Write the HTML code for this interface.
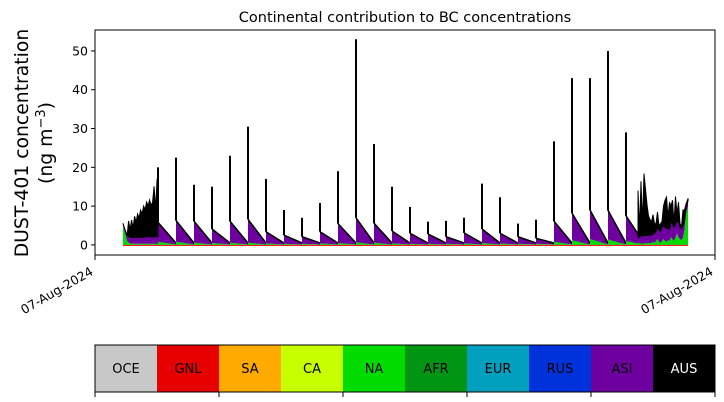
<!DOCTYPE html>
<html><head><meta charset="utf-8"><style>
body{margin:0;background:#fff;}
svg{display:block;font-family:"DejaVu Sans","Liberation Sans",sans-serif;}
</style></head><body>
<svg id="chart" width="724" height="402" xmlns="http://www.w3.org/2000/svg">
<text x="405" y="22" text-anchor="middle" font-size="14.5">Continental contribution to BC concentrations</text>
<g transform="translate(28,143) rotate(-90)">
<text x="0" y="0" text-anchor="middle" font-size="18.8">DUST-401 concentration</text>
<text x="0" y="24" text-anchor="middle" font-size="18.8">(ng m<tspan dy="-7" font-size="13">−3</tspan><tspan dy="7">)</tspan></text>
</g>
<g id="marks"></g>
<g id="axes"></g>
<g id="cbar"></g>
</svg>
<script>
const yTicks=[0,10,20,30,40,50];
const xTickLabels=["07-Aug-2024","07-Aug-2024"];
const regions=["OCE","GNL","SA","CA","NA","AFR","EUR","RUS","ASI","AUS"];
const regionColors=["#c8c8c8","#e60000","#ffaa00","#c8ff00","#00dc00","#009614","#00a0be","#0032dc","#6e00a0","#000000"];
const periodStart=[21,27,33,39,45,51,57,63,69,75,81,87,93,99,105,111,117,123,129,135,141,147,153,159,165,171,177];
const asiPeak=[5,5.5,5.5,3.6,5.5,6,3,2.2,1.8,3,5,6.3,5,3.2,2.7,2.5,1.8,2.7,3.6,2.6,1.8,1.4,5.3,7,7.5,7.5,6.5];
const naPeak=[0.8,0.8,0.6,0.5,0.6,0.6,0.4,0.3,0.3,0.4,0.5,0.7,0.6,0.4,0.3,0.3,0.3,0.4,0.5,0.4,0.3,0.3,0.8,1.2,1.5,1.4,1.0];
const spikeT=[21,27,33,39,45,51,57,63,69,75,81,87,93,99,105,111,117,123,129,135,141,147,153,159,165,171,177];
const spikeV=[20,22.5,15.5,15,23,30.5,17,9,7,10.8,19,53,26,15,9.8,6,6.2,7,15.8,12.3,5.5,6.5,26.7,43,43,50,29];
const tA=[9.3,10,10.7,11.2,11.7,12.2,12.7,13.2,13.7,14.2,14.7,15.2,15.7,16.2,16.7,17.2,17.7,18.2,18.7,19.2,19.7,20.2,20.7,21];
const naA=[5,3,1,0.6,0.4,0.3,0.3,0.3,0.3,0.3,0.3,0.3,0.3,0.3,0.3,0.3,0.3,0.3,0.3,0.3,0.3,0.3,0.3,0.3];
const asiA=[0.6,1,1.4,1.6,1.6,1.6,1.6,1.6,1.6,1.7,1.7,1.7,1.7,1.7,1.8,1.8,1.8,1.8,1.8,1.8,1.8,1.8,1.8,2];
const ausA=[0,0,0,4,2,4.5,2.5,5.5,4,6,5,7,6,8,7,9,8,9.5,8,9,13,7,15,3];
const tB=[181,181.5,182,182.5,183,183.5,184,184.5,185,185.5,186,186.5,187,187.5,188,188.5,189,189.5,190,190.5,191,191.5,192,192.5,193,193.5,194,194.5,195,195.5,196,196.5,197,197.7];
const naB=[0.5,0.5,0.4,0.4,0.4,0.4,0.4,0.5,0.5,0.5,0.8,0.5,1,1.5,0.8,0.5,1,1.5,1,0.8,1.2,1,2,1.5,1,2,3,2,1.5,1.2,2,4,8,10];
const asiB=[1.5,1.5,2,2,2,2,2,2,2,2,2,2.5,2.5,3,3,3,3.5,3.5,3.5,3.5,3,3,4,4,3.5,3.5,3,4,3,3,3,2,1.5,1.5];
const ausB=[12,2,14,3,16,12,8,5,4,3.5,5,2.5,2,4,1,2,1.5,5,7,8,3,7,4,6,1,7,2,5,1,0.5,4,3,1,0.5];

const svgNS="http://www.w3.org/2000/svg";
const X0=95,X1=715,Y0=30,Y1=255;
const tMin=0,tMax=206.67,vMin=-2.6,vMax=55.4;
const xs=t=>X0+(t-tMin)/(tMax-tMin)*(X1-X0);
const ys=v=>Y1-(v-vMin)/(vMax-vMin)*(Y1-Y0);
const marks=document.getElementById('marks');
function el(tag,attrs,parent){const e=document.createElementNS(svgNS,tag);for(const k in attrs)e.setAttribute(k,attrs[k]);parent.appendChild(e);return e;}
function poly(pts,fill,stroke){return el('polygon',{points:pts.map(p=>xs(p[0]).toFixed(1)+','+ys(p[1]).toFixed(1)).join(' '),fill:fill,stroke:stroke||'none','stroke-width':stroke?1.5:0},marks);}
periodStart.forEach((t0,i)=>{
  const t1=t0+6, na=naPeak[i], asi=asiPeak[i];
  const g=poly([[t0,0],[t0,na],[t1,0.1],[t1,0]],regionColors[4]);
  
  
  const a=poly([[t0,na],[t0,na+asi],[t1,0.5],[t1,0.1]],regionColors[8]);
  
  
  const l=el('polyline',{points:xs(t0)+','+ys(na+asi)+' '+xs(t1)+','+ys(0.5),fill:'none',stroke:'#000','stroke-width':1.5},marks);
  
  
});
function dense(ts,na,asi,aus,name){
  const b=[],m=[],tp=[];
  ts.forEach((t,i)=>{b.push([t,na[i]]);m.push([t,na[i]+asi[i]]);tp.push([t,na[i]+asi[i]+aus[i]]);});
  const n=poly([[ts[0],0]].concat(b,[[ts[ts.length-1],0]]),regionColors[4]);
  
  
  const a=poly(b.concat(m.slice().reverse()),regionColors[8]);
  
  
  const k=poly(m.concat(tp.slice().reverse()),regionColors[9],'#000');
  k.setAttribute('stroke-width','1');
  
  
}
dense(tA,naA,asiA,ausA,'start');
dense(tB,naB,asiB,ausB,'end');
spikeT.forEach((t,i)=>{
  const s=el('line',{x1:xs(t),x2:xs(t),y1:ys(naPeak[i]+asiPeak[i]),y2:ys(spikeV[i]),stroke:'#000','stroke-width':2},marks);
  
  
});
el('line',{x1:xs(9.3),x2:xs(197.7),y1:ys(0)+0.5,y2:ys(0)+0.5,stroke:'#e60000','stroke-width':1},marks);
const axes=document.getElementById('axes');
const fr=el('rect',{x:X0,y:Y0,width:X1-X0,height:Y1-Y0,fill:'none',stroke:'#000','stroke-width':1},axes);


yTicks.forEach(v=>{
  const y=ys(v);
  el('line',{x1:X0-4,x2:X0,y1:y,y2:y,stroke:'#000'},axes);
  const tx=el('text',{x:X0-7,y:y+4.5,'text-anchor':'end','font-size':12.5},axes);
  tx.textContent=v;
  
  
});
[X0,X1].forEach((x,i)=>{
  el('line',{x1:x,x2:x,y1:Y1,y2:Y1+5,stroke:'#000'},axes);
  const tx=el('text',{x:0,y:0,'text-anchor':'end','font-size':12.5,transform:'translate('+(x-1)+','+(Y1+19)+') rotate(-30)'},axes);
  tx.textContent=xTickLabels[i];
  
  
});
const cb=document.getElementById('cbar');
const cw=(X1-X0)/regions.length;
regions.forEach((r,i)=>{
  const c=el('rect',{x:X0+i*cw,y:345,width:cw,height:47,fill:regionColors[i]},cb);
  
  
  const t=el('text',{x:X0+i*cw+cw/2,y:373,'text-anchor':'middle','font-size':13,fill:r==='AUS'?'#fff':'#000'},cb);
  t.textContent=r;
  
  
});
el('rect',{x:X0,y:345,width:X1-X0,height:47,fill:'none',stroke:'#000'},cb);
for(let i=0;i<=regions.length;i+=2){el('line',{x1:X0+i*cw,x2:X0+i*cw,y1:392,y2:397,stroke:'#000'},cb);}
</script>
</body></html>
